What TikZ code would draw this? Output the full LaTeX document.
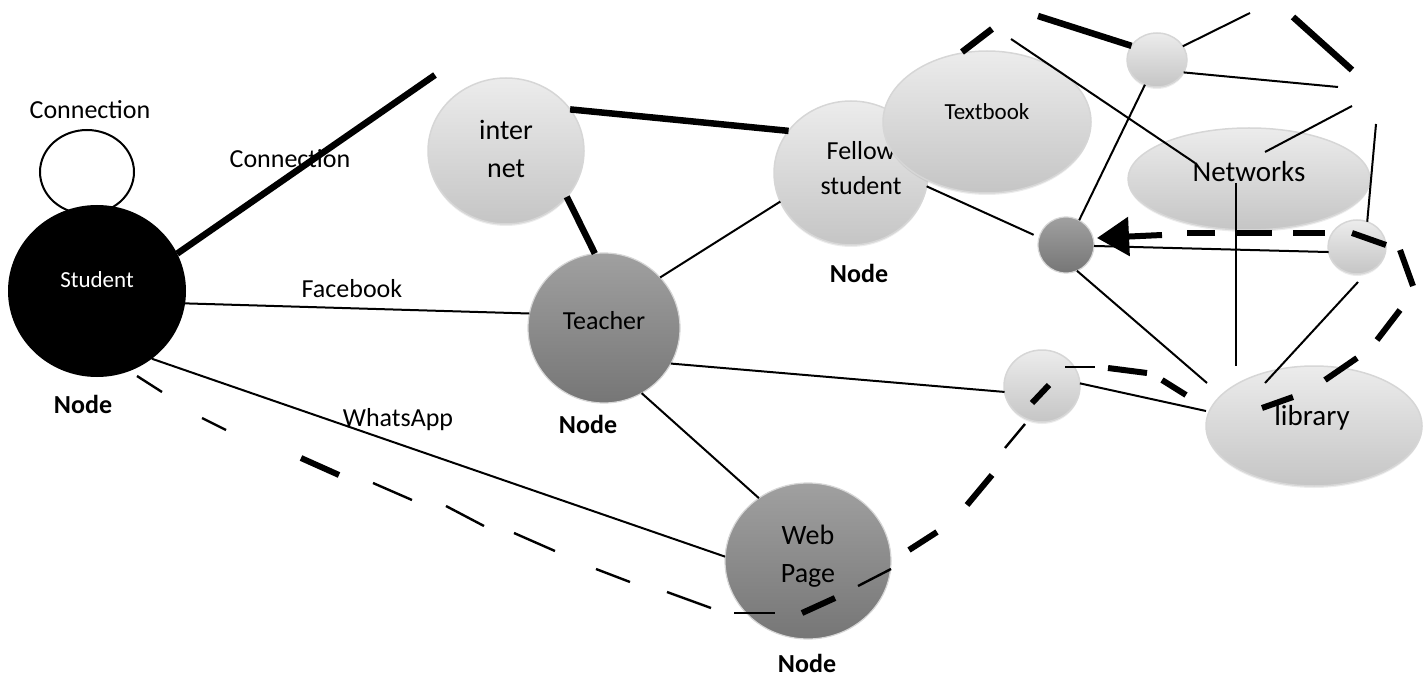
\documentclass[tikz,border=0pt]{standalone}
\usepackage{fontspec}
\setmainfont{Carlito}
\usetikzlibrary{arrows.meta,shadows,shapes.geometric}

\newcommand{\fsz}[2]{\fontsize{#1}{#2}\selectfont}

\definecolor{lighttop}{RGB}{236,236,236}
\definecolor{lightbot}{RGB}{197,197,197}
\definecolor{darktop}{RGB}{160,160,160}
\definecolor{darkbot}{RGB}{118,118,118}
\definecolor{rim}{RGB}{214,214,214}

\begin{document}
\begin{tikzpicture}[x=1pt,y=-1pt,
  blob/.style={ellipse, inner sep=0pt, outer sep=0pt},
  wh/.style 2 args={minimum width=#1, minimum height=#2},
  lightblob/.style={blob, top color=lighttop, bottom color=lightbot, draw=rim, line width=1.5pt,
    drop shadow={opacity=0.15, shadow xshift=0pt, shadow yshift=-2pt}},
  darkblob/.style={blob, top color=darktop, bottom color=darkbot, draw=rim, line width=1.2pt},
  thinline/.style={line width=2pt},
  thickline/.style={line width=6.5pt},
  thindash/.style={line width=2.4pt},
  thickdash/.style={line width=6pt},
  caption/.style={font=\fsz{26}{30}, inner sep=0pt},
  nodetag/.style={font=\bfseries\fsz{26}{30}, inner sep=0pt},
]
\useasboundingbox (0,0) rectangle (1423,676);

% ---- self loop and the student node
\node[blob, draw=black, line width=2pt, fill=white, wh={94}{84}] (loop) at (87,172) {};
\node[blob, fill=black, wh={178}{172},
  label={[font=\fsz{23}{27}, text=white, yshift=11pt]center:Student}] (student) at (97,291) {};

% ---- main nodes
\node[lightblob, wh={156}{146},
  label={[font=\fsz{28}{38}, align=center, yshift=2pt]center:inter\\net}] (internet) at (506,151) {};
\node[darkblob, wh={152}{150},
  label={[font=\fsz{26}{30}, yshift=7pt]center:Teacher}] (teacher) at (604,328) {};
\node[lightblob, wh={154}{144},
  label={[font=\fsz{26}{35}, align=center, xshift=10pt, yshift=5pt]center:Fellow\\student}] (fellow) at (851,173) {};
\node[darkblob, wh={166}{156},
  label={[font=\fsz{28}{38}, align=center, yshift=5pt]center:Web\\Page}] (webpage) at (808,561) {};
\node[lightblob, wh={208}{142},
  label={[font=\fsz{23}{27}, yshift=10pt]center:Textbook}] (textbook) at (987,122) {};
\node[lightblob, wh={242}{102},
  label={[font=\fsz{29}{33}, yshift=7pt]center:Networks}] (networks) at (1249,179) {};
\node[lightblob, wh={60}{54}] (topc) at (1157,60) {};
\node[darkblob, wh={56}{56}] (dark) at (1066,245) {};
\node[lightblob, wh={58}{54}] (rightc) at (1357,247) {};
\node[lightblob, wh={76}{72}] (midc) at (1042,386) {};
\node[lightblob, wh={216}{120},
  label={[font=\fsz{29}{33}, xshift=-2pt, yshift=8pt]center:library}] (library) at (1314,426) {};

% ---- captions
\node[caption] (capLoop) at (90,110) {Connection};
\node[caption] (capLink) at (290,159) {Connection};
\node[caption] (capFb) at (352,289) {Facebook};
\node[caption] (capWa) at (398,420) {WhatsApp};
\node[nodetag] (tagStudent) at (83,404) {Node};
\node[nodetag] (tagTeacher) at (588,424) {Node};
\node[nodetag] (tagFellow) at (859,273) {Node};
\node[nodetag] (tagWeb) at (807,663) {Node};

% ---- free line ends
\coordinate (linkEnd) at (435,75);
\coordinate (t1a) at (962,52);
\coordinate (t1b) at (992,29);
\coordinate (t2) at (1038,16);
\coordinate (t3a) at (1293,17);
\coordinate (t3b) at (1352,70);
\coordinate (n1a) at (1011,39);
\coordinate (n1b) at (1195,163);
\coordinate (u1) at (1250,13);
\coordinate (u2) at (1338,87);
\coordinate (n2a) at (1352,106);
\coordinate (n2b) at (1265,152);
\coordinate (v1) at (1376,124);
\coordinate (n3) at (1236,183);
\coordinate (libTop) at (1236,366);
\coordinate (libA) at (1207,383);
\coordinate (libB) at (1206,411);
\coordinate (libC) at (1265,383);
\coordinate (rcBot) at (1358,282);
\coordinate (arrowFrom) at (1162,235);
\coordinate (arrowTip) at (1097,238);

% ---- heavy connections
\draw[thickline] (student.25) -- (linkEnd);
\draw[thickline] (internet.33) -- (fellow.146);
\draw[thickline] (internet.323) -- (teacher.97);
\draw[thickline] (t1a) -- (t1b);
\draw[thickline] (t2) -- (topc.151);
\draw[thickline] (t3a) -- (t3b);

% ---- light connections
\draw[thinline] (student.352) -- (teacher.169);
\draw[thinline] (student.309) -- (webpage.177);
\draw[thinline] (teacher.42) -- (fellow.202);
\draw[thinline] (teacher.332) -- (midc.189);
\draw[thinline] (teacher.300) -- (webpage.128);
\draw[thinline, shorten >=6pt] (fellow.350) -- (dark.164);
\draw[thinline] (n1a) -- (n1b);
\draw[thinline] (topc.28) -- (u1);
\draw[thinline] (topc.335) -- (u2);
\draw[thinline] (n2a) -- (n2b);
\draw[thinline] (v1) -- (rightc.68);
\draw[thinline] (topc.244) -- (dark.62);
\draw[thinline] (rightc.190) -- (dark.358);
\draw[thinline] (n3) -- (libTop);
\draw[thinline] (dark.293) -- (libA);
\draw[thinline] (rcBot) -- (libC);
\draw[thinline] (midc.4) -- (libB);

% ---- broken route from the student round the web page to the library
\foreach \xa/\ya/\xb/\yb in {137/376/162/392, 202/418/226/430, 373/483/412/500,
    446/506/484/526, 514/533/555/551, 596/569/630/582, 667/592/711/608,
    734/613/775/613, 858/586/891/569, 1005/448/1025/424, 1065/367/1095/367}
  \draw[thindash] (\xa,\ya) -- (\xb,\yb);
\foreach \xa/\ya/\xb/\yb in {301/458/339/475, 802/613/835/598, 909/550/937/532,
    967/505/992/475, 1032/403/1049/385, 1108/368/1147/373, 1162/380/1186/395}
  \draw[thickdash] (\xa,\ya) -- (\xb,\yb);

% ---- broken route from the library back to the dark node, with arrow
\foreach \xa/\ya/\xb/\yb in {1262/408/1293/397, 1325/380/1357/358, 1377/340/1400/310,
    1413/286/1400/250, 1386/245/1352/233, 1325/233/1293/233, 1272/233/1235/233,
    1215/233/1187/233}
  \draw[thickdash] (\xa,\ya) -- (\xb,\yb);
\draw[thickdash, -{Triangle[length=32pt,width=38pt]}] (arrowFrom) -- (arrowTip);

\end{tikzpicture}
\end{document}
